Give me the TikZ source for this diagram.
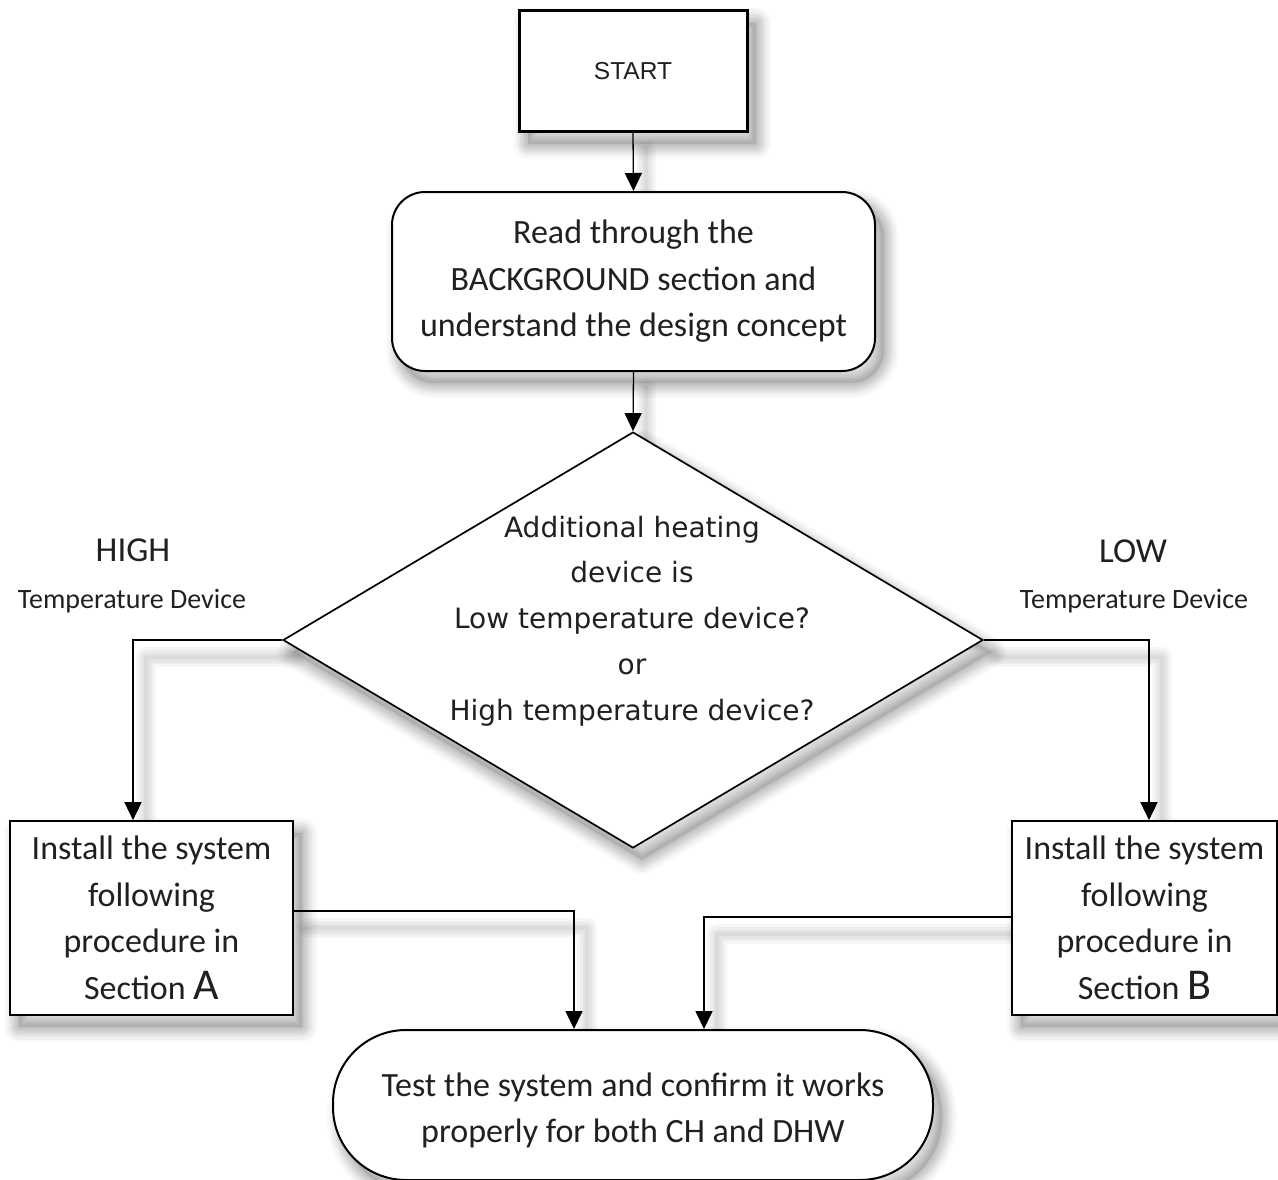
\documentclass[tikz,border=0pt]{standalone}
\usepackage{fontspec}
\setmainfont{Carlito}
\newfontfamily\dvfont{DejaVu Sans}
\newfontfamily\arfont{Liberation Sans}
\usetikzlibrary{shapes.geometric,arrows.meta}
\definecolor{ink}{RGB}{35,31,32}
\pgfdeclarelayer{back}
\pgfdeclarelayer{shade}
\pgfsetlayers{back,shade,main}
\newcommand\lineshadow[1]{%
  \begin{pgfonlayer}{shade}
  \begin{scope}[transform canvas={shift={(13pt,-17pt)}}]
  \foreach \w in {20,14,9,4}{\draw[line width=\w pt,black,opacity=0.035,line cap=round,line join=round] #1;}
  \end{scope}
  \end{pgfonlayer}}
\begin{document}
\begin{tikzpicture}[x=1pt,y=-1pt,
  every node/.style={text=ink},
  shp/.style={draw=black,opacity=#1,line join=round,transform canvas={shift={(9pt,-12pt)}}},
  shad/.style={
    preaction={fill=black,draw=none,opacity=0.1,transform canvas={shift={(9pt,-12pt)}}},
    preaction={shp=0.045,line width=4pt},
    preaction={shp=0.045,line width=8pt},
    preaction={shp=0.04,line width=12pt},
    preaction={shp=0.04,line width=16pt},
    preaction={shp=0.035,line width=20pt},
    preaction={shp=0.03,line width=25pt},
    preaction={shp=0.025,line width=30pt}},
  boxtxt/.style={font=\fontsize{34}{46.5}\selectfont,align=center},
  startbox/.style={shad,draw=black,line width=3pt,fill=white,minimum width=228pt,minimum height=121pt,inner sep=0pt,font=\arfont\fontsize{24.5}{29}\selectfont},
  readbox/.style={rounded corners=33pt,shad,draw=black,line width=2pt,fill=white,minimum width=483pt,minimum height=179pt,inner sep=0pt,boxtxt},
  decision/.style={diamond,shad,draw=black,line width=1.7pt,fill=white,minimum width=700pt,minimum height=416pt,inner sep=0pt},
  qtxt/.style={font=\dvfont\fontsize{28}{45.75}\selectfont,align=center,inner sep=0pt},
  procbox/.style={shad,draw=black,line width=1.7pt,fill=white,minimum height=194pt,inner sep=0pt,boxtxt},
  termbox/.style={rounded corners=73pt,shad,draw=black,line width=2pt,fill=white,minimum width=600pt,minimum height=150pt,inner sep=0pt,boxtxt},
  biglbl/.style={anchor=base,inner sep=0pt,font=\fontsize{35}{40}\selectfont},
  smllbl/.style={anchor=base,inner sep=0pt,font=\fontsize{28}{32}\selectfont},
  conn/.style={draw=black,line width=1.7pt,-{Triangle[width=17pt,length=18pt]}},
  thinconn/.style={conn,line width=1.3pt}]
\begin{pgfonlayer}{back}
\fill[white] (0,0) rectangle (1278,1179);
\end{pgfonlayer}
\useasboundingbox (0,0) rectangle (1278,1179);

\node[startbox] (start) at (633,71) {START};
\node[readbox] (read) at (633.5,281.5) {Read through the\\BACKGROUND section and\\understand the design concept};
\node[decision] (dia) at (633,640) {};
\node[qtxt] (qtext) at (632,621) {Additional heating\\device is\\Low temperature device?\\or\\High temperature device?};
\node[procbox,minimum width=283pt] (lbox) at (151.5,918) {Install the system\\following\\procedure in\\Section {\fontsize{44}{46.5}\selectfont A}};
\node[procbox,minimum width=265pt] (rbox) at (1144.5,918) {Install the system\\following\\procedure in\\Section {\fontsize{44}{46.5}\selectfont B}};
\node[termbox] (term) at (633,1105) {\rule{0pt}{34pt}Test the system and confirm it works\\properly for both CH and DHW};

\node[biglbl] (high) at (133,561) {HIGH};
\node[smllbl] (htd) at (132,608) {Temperature Device};
\node[biglbl] (low) at (1133,562) {LOW};
\node[smllbl] (ltd) at (1134,608) {Temperature Device};

\lineshadow{(start.south) -- (read.north)}
\lineshadow{(read.south) -- (dia.north)}
\lineshadow{(dia.west) -| ([xshift=-18.5pt]lbox.north)}
\lineshadow{(dia.east) -| ([xshift=4.5pt]rbox.north)}
\lineshadow{([yshift=7pt]lbox.east) -| ([xshift=-59pt]term.north)}
\lineshadow{([yshift=1pt]rbox.west) -| ([xshift=71pt]term.north)}

\draw[thinconn] (start.south) -- (read.north);
\draw[thinconn] (read.south) -- (dia.north);
\draw[conn] (dia.west) -| ([xshift=-18.5pt]lbox.north);
\draw[conn] (dia.east) -| ([xshift=4.5pt]rbox.north);
\draw[conn] ([yshift=7pt]lbox.east) -| ([xshift=-59pt]term.north);
\draw[conn] ([yshift=1pt]rbox.west) -| ([xshift=71pt]term.north);
\end{tikzpicture}
\end{document}
